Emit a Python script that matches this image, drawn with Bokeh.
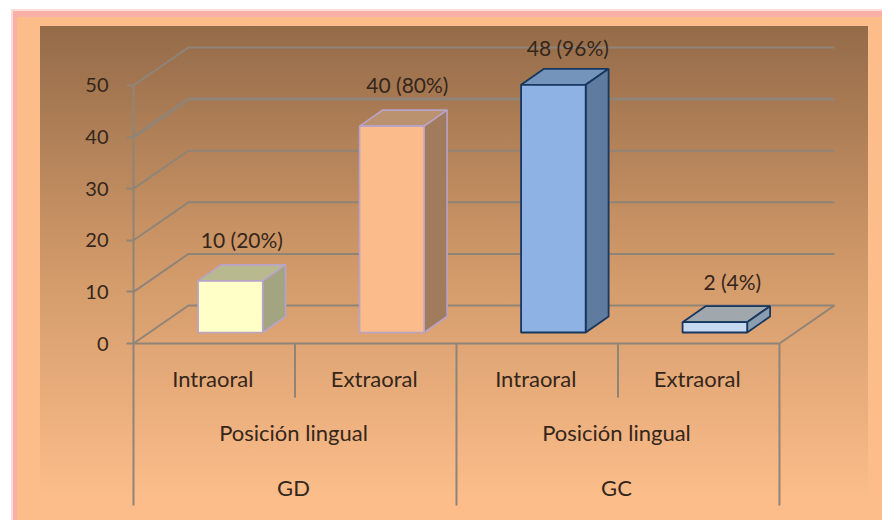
from bokeh.plotting import figure
from bokeh.models import FixedTicker, LinearAxis, Range1d
from bokeh.core.properties import value
from bokeh.embed import file_html
from bokeh.resources import INLINE

# ---- data
groups = ["GD", "GC"]
level2 = ["Posición lingual", "Posición lingual"]
categories = ["Intraoral", "Extraoral", "Intraoral", "Extraoral"]
values = [10, 40, 48, 2]
labels = ["10 (20%)", "40 (80%)", "48 (96%)", "2 (4%)"]
y_ticks = [0, 10, 20, 30, 40, 50]
grid_widths = [2, 2, 2, 2, 3, 2]

front_colors = ["#ffffc8", "#fbbb8a", "#8eb2e3", "#c6d9f0"]
top_colors = ["#b8b98e", "#bb9270", "#7594bc", "#a0a8ad"]
side_colors = ["#a3a581", "#a07b5c", "#5f7b9f", "#8b9db0"]
edge_colors = ["#b9a3c8", "#b9a3c8", "#17375e", "#17375e"]
edge_widths = [1.6, 1.6, 1.8, 1.8]

# label placement relative to each bar, in pixels
label_dx = [0, 4, 3, 6]
label_dy = [-25, -26, -21, -25]

GRID = "#8f8478"
TEXT = "#35261b"
FONT = "Lato"
PEACH = "#fcbd8a"
PINK = "#f8b0a8"
BLUSH = "#fcdcd8"
SIZE_TICK, SIZE_CAT, SIZE_LABEL = "20px", "22px", "21px"
CAT_NUDGE = -1.5

# ---- 3D projection (units: categories / values)
WALL_DX, WALL_DY = 0.34, 7.36
BAR_DX, BAR_DY = 0.142, 3.1
BASE_X, BASE_Y = 0.1, 2.13
BAR_W = 0.4

W, H = 882, 520
p = figure(width=W, height=H, output_backend="svg", toolbar_location=None,
           x_range=Range1d(0, 4.638), y_range=Range1d(-34.3, 66.47),
           x_axis_location=None, y_axis_location=None,
           min_border_left=133, min_border_right=0, min_border_top=0, min_border_bottom=0)
p.grid.visible = False
p.outline_line_color = None
p.background_fill_color = None
p.border_fill_color = None
p.styles = {
    "background":
        f"linear-gradient(180deg,#946b49 0%,#d09868 50%,#fbbd8a 100%) 40px 26px / 828px 470px no-repeat,"
        f"linear-gradient({PEACH},{PEACH}) 17px 17px / 100% 100% no-repeat,"
        f"linear-gradient({PINK},{PINK}) 13px 11px / 100% 100% no-repeat,"
        f"linear-gradient({BLUSH},{BLUSH}) 11px 9px / 100% 100% no-repeat",
}

# y axis (real), running on down as the outer category divider
yaxis = LinearAxis(ticker=FixedTicker(ticks=y_ticks), bounds=(-31.4, 50))
yaxis.axis_line_color = GRID
yaxis.axis_line_width = 2
yaxis.major_tick_line_color = GRID
yaxis.major_tick_line_width = 2
yaxis.major_tick_out = 7
yaxis.major_tick_in = 0
yaxis.minor_tick_line_color = None
yaxis.major_label_standoff = 18
yaxis.major_label_text_font = FONT
yaxis.major_label_text_font_size = SIZE_TICK
yaxis.major_label_text_color = TEXT
p.add_layout(yaxis, "left")

# back wall gridlines
n = len(categories)
p.multi_line([[0, WALL_DX, n + WALL_DX] for _ in y_ticks],
             [[v, v + WALL_DY, v + WALL_DY] for v in y_ticks],
             line_color=GRID, line_width=grid_widths)
# floor
p.line([n, n + WALL_DX], [0, WALL_DY], line_color=GRID, line_width=2)
p.line([0, n], [0, 0], line_color=GRID, line_width=2)
# category dividers
short = [i for i in range(1, n + 1) if i % 2 == 1]
long_ = [i for i in range(1, n + 1) if i % 2 == 0]
p.segment(short, [0] * len(short), short, [-10.5] * len(short), line_color=GRID, line_width=2)
p.segment(long_, [0] * len(long_), long_, [-31.4] * len(long_), line_color=GRID, line_width=2)

# bars
x0 = [i + 0.5 + BASE_X - BAR_W / 2 for i in range(n)]
x1 = [a + BAR_W for a in x0]
y0 = [BASE_Y] * n
y1 = [BASE_Y + v for v in values]
p.patches([[a, b, b + BAR_DX, a + BAR_DX] for a, b in zip(x0, x1)],
          [[t, t, t + BAR_DY, t + BAR_DY] for t in y1],
          fill_color=top_colors, line_color=edge_colors, line_width=edge_widths)
p.patches([[b, b + BAR_DX, b + BAR_DX, b] for b in x1],
          [[s, s + BAR_DY, t + BAR_DY, t] for s, t in zip(y0, y1)],
          fill_color=side_colors, line_color=edge_colors, line_width=edge_widths)
p.quad(left=x0, right=x1, bottom=y0, top=y1,
       fill_color=front_colors, line_color=edge_colors, line_width=edge_widths)

# data labels
p.text(x=[(a + b) / 2 + BAR_DX / 2 for a, b in zip(x0, x1)],
       y=[t + BAR_DY for t in y1],
       text=labels, x_offset=label_dx, y_offset=label_dy,
       text_align="center", text_baseline="middle",
       text_font=value(FONT), text_font_size=SIZE_LABEL, text_color=TEXT)

# category levels
p.text(x=[i + 0.5 for i in range(n)], y=[-6.8] * n, text=categories,
       x_offset=CAT_NUDGE, text_align="center", text_baseline="middle",
       text_font=value(FONT), text_font_size=SIZE_CAT, text_color=TEXT)
p.text(x=[1, 3], y=[-17.3] * 2, text=level2,
       x_offset=CAT_NUDGE, text_align="center", text_baseline="middle",
       text_font=value(FONT), text_font_size=SIZE_CAT, text_color=TEXT)
p.text(x=[1, 3], y=[-27.9] * 2, text=groups,
       x_offset=CAT_NUDGE, text_align="center", text_baseline="middle",
       text_font=value(FONT), text_font_size=SIZE_CAT, text_color=TEXT)

open("out.html", "w").write(file_html(p, INLINE))
